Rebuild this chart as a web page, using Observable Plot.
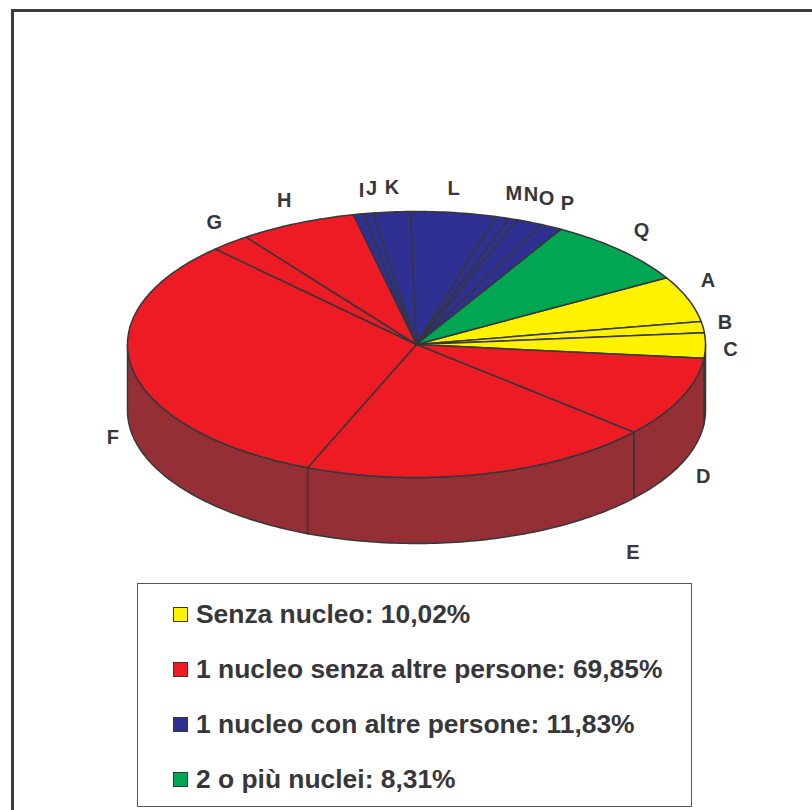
<!DOCTYPE html>
<html>
<head>
<meta charset="utf-8">
<script src="https://cdn.jsdelivr.net/npm/d3@7"></script>
<script src="https://cdn.jsdelivr.net/npm/@observablehq/plot@0.6"></script>
<style>
  html, body { margin: 0; padding: 0; background: #fff; }
  #page { position: relative; width: 812px; height: 810px; overflow: hidden; font-family: "Liberation Sans", Arial, sans-serif; }
  #frame { position: absolute; left: 11px; top: 9px; width: 812px; height: 820px; border-left: 3px solid #3c3c40; border-top: 3px solid #3c3c40; box-sizing: border-box; }
  #chart { position: absolute; left: 0; top: 0; }
  #legend { position: absolute; left: 137px; top: 583px; width: 555px; height: 224px; box-sizing: border-box; border: 1px solid #55555a; background: #fff; }
  .row { position: absolute; left: 35px; display: flex; align-items: center; height: 30px; font-weight: bold; font-size: 26.4px; color: #36363b; white-space: nowrap; }
  .sw { display: inline-block; width: 13px; height: 13px; border: 1.5px solid #36363b; margin-right: 8px; }
</style>
</head>
<body>
<div id="page">
  <div id="frame"></div>
  <div id="chart"></div>
  <div id="legend"></div>
</div>
<script>
// Slices, clockwise from the top of slice A (percent of the whole)
const sliceNames  = ["A","B","C","D","E","F","G","H","I","J","K","L","M","N","O","P","Q"];
const sliceValues = [5.6,1.35,3.07,9.8,19.7,31.6,2.2,6.55,0.56,0.56,2.05,4.75,0.75,0.5,1.45,1.21,8.31];
const sliceGroups = [0,0,0,1,1,1,1,1,2,2,2,2,2,2,2,2,3];

// Legend
const groupNames  = ["Senza nucleo","1 nucleo senza altre persone","1 nucleo con altre persone","2 o più nuclei"];
const groupShares = ["10,02%","69,85%","11,83%","8,31%"];
const groupColors = ["#FFF200","#ED1C24","#2E3192","#00A651"];
const wallColor   = "#943035";
const inkColor    = "#36363b";

// Pixel nudges that take each label from its slice's rim to where it sits
const labelDx = [20,22,25,22,150,-20,-16,-13,3,3,0,0,11.5,18,17,16,21];
const labelDy = [-18,-5,4,79,79,68,-20,-23,-24,-25,-24,-24,-24,-25,-23,-23,-20];

// Pie layout
const startAngle = 30.1;    // degrees, counter-clockwise from east
const wallDepth  = 0.496;   // in y units, where the rim's half height is 1
const rad = d => d * Math.PI / 180;
const total = d3.sum(sliceValues);

let running = startAngle;
const slices = sliceNames.map((name, i) => {
  const from = running;
  const to = running - sliceValues[i] / total * 360;
  running = to;
  return {name, group: groupNames[sliceGroups[i]], from, to, mid: (from + to) / 2, i};
});

function arc(from, to) {
  const n = Math.max(2, Math.ceil(Math.abs(from - to)));
  return d3.range(n + 1).map(k => from + (to - from) * k / n);
}

// Top face wedges
const topPoints = slices.flatMap(s => [
  {key: s.name, group: s.group, x: 0, y: 0},
  ...arc(s.from, s.to).map(a => ({key: s.name, group: s.group, x: Math.cos(rad(a)), y: Math.sin(rad(a))})),
  {key: s.name, group: s.group, x: 0, y: 0}
]);

// Side walls: only the front half of the rim (angles -180..0) is visible
const wallPoints = slices.flatMap(s => {
  const a = Math.min(s.from, 0), b = Math.max(s.to, -180);
  if (a <= b) return [];
  const top = arc(a, b).map(t => ({key: s.name, x: Math.cos(rad(t)), y: Math.sin(rad(t))}));
  const bottom = arc(b, a).map(t => ({key: s.name, x: Math.cos(rad(t)), y: Math.sin(rad(t)) - wallDepth}));
  return [...top, ...bottom, top[0]];
});

const labelMarks = slices.map(s => Plot.text([s], {
  x: d => Math.cos(rad(d.mid)),
  y: d => Math.sin(rad(d.mid)),
  text: "name",
  dx: labelDx[s.i],
  dy: labelDy[s.i],
  fill: inkColor,
  fontSize: 20,
  fontWeight: "bold",
  fontFamily: "Liberation Sans, Arial, sans-serif"
}));

const chart = Plot.plot({
  width: 812,
  height: 580,
  margin: 0,
  x: {domain: [-416 / 289, (812 - 416) / 289], range: [0, 812], axis: null},
  y: {domain: [344 / 133, (344 - 580) / 133], range: [0, 580], axis: null},
  color: {type: "ordinal", domain: groupNames, range: groupColors},
  marks: [
    Plot.line(wallPoints, {x: "x", y: "y", z: "key", fill: wallColor, stroke: inkColor, strokeWidth: 1.5, curve: "linear", strokeLinejoin: "round"}),
    Plot.line(topPoints, {x: "x", y: "y", z: "key", fill: "group", stroke: inkColor, strokeWidth: 1.5, curve: "linear", strokeLinejoin: "round"}),
    ...labelMarks
  ]
});
chart.style.background = "transparent";
document.getElementById("chart").appendChild(chart);

// Legend
const legend = d3.select("#legend");
const rowTops = [15, 70, 125, 180];
groupNames.forEach((g, i) => {
  const row = legend.append("div").attr("class", "row").style("top", rowTops[i] + "px");
  row.append("span").attr("class", "sw").style("background", groupColors[i]);
  row.append("span").text(`${g}: ${groupShares[i]}`);
});
</script>
</body>
</html>
